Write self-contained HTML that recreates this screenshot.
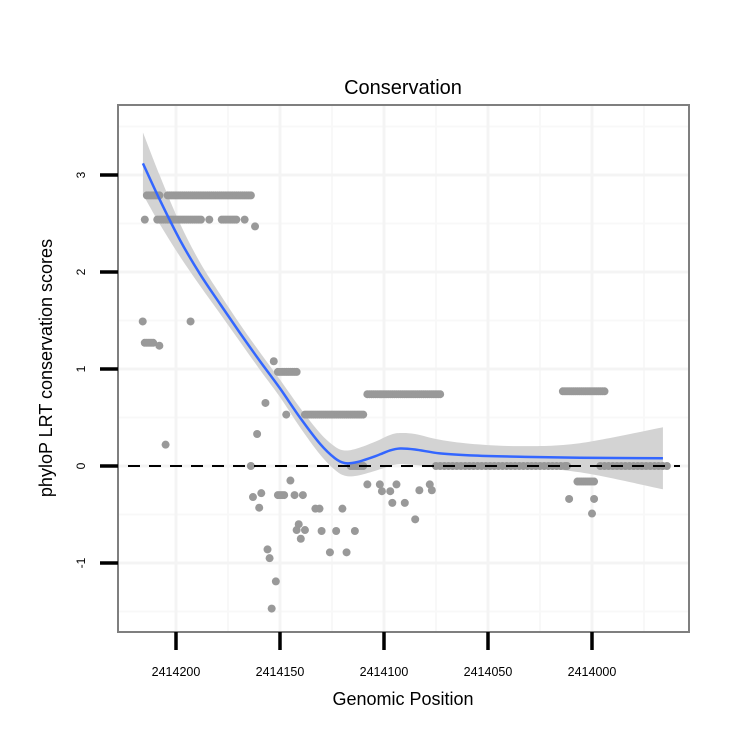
<!DOCTYPE html>
<html><head><meta charset="utf-8"><style>
html,body{margin:0;padding:0;background:#fff;}
svg{display:block;font-family:"Liberation Sans",Arial,sans-serif;}
</style></head><body>
<svg id="chart" width="750" height="750" viewBox="0 0 750 750">
<rect width="750" height="750" fill="#fff"/>
<text x="403" y="94" font-size="20" text-anchor="middle">Conservation</text>
<g id="grid"></g>
<g id="band"></g>
<g id="pts"></g>
<g id="ref"></g>
<g id="line"></g>
<rect x="118" y="105" width="571" height="527" fill="none" stroke="#7f7f7f" stroke-width="2"/>
<g id="axes"></g>
<text x="403" y="705" font-size="18" text-anchor="middle">Genomic Position</text>
<text transform="translate(52,368) rotate(-90)" font-size="18" text-anchor="middle">phyloP LRT conservation scores</text>
</svg>
<script>
const xBase = 2414000;
const xTicks = [2414200, 2414150, 2414100, 2414050, 2414000];
const xMinor = [2414175, 2414125, 2414075, 2414025, 2413975];
const yTicks = [3, 2, 1, 0, -1];
const yMinor = [3.5, 2.5, 1.5, 0.5, -0.5, -1.5];
const ptOff = [
214,213,212,211,210,209,208,204,203,202,201,200,199,198,197,196,195,194,193,192,191,190,189,188,187,186,185,184,183,182,181,180,179,178,177,176,175,174,173,172,171,170,169,168,167,166,165,164,
215,209,208,207,206,205,204,203,202,201,200,199,198,197,196,195,194,193,192,191,190,189,188,184,178,177,176,175,174,173,172,171,167,162,
216,193,215,214,213,212,211,208,205,
153,151,150,149,148,147,146,145,144,143,142,157,147,
138,137,136,135,134,133,132,131,130,129,128,127,126,125,124,123,122,121,120,119,118,117,116,115,114,113,112,111,110,
108,107,106,105,104,103,102,101,100,99,98,97,96,95,94,93,92,91,90,89,88,87,86,85,84,83,82,81,80,79,78,77,76,75,74,73,
161,164,116,115,114,113,112,111,110,
75,73,71,69,67,65,63,61,59,57,55,53,51,49,47,45,43,41,39,37,35,33,31,29,27,25,23,21,19,17,15,13,12,
-4,-6,-8,-10,-12,-14,-16,-18,-20,-22,-24,-26,-28,-30,-32,-34,-36,
145,159,163,160,151,150,149,148,143,139,133,131,120,141,142,138,140,130,123,114,156,155,126,118,152,154,
108,102,101,97,94,90,96,83,78,77,85,
14,13,12,11,10,9,8,7,6,5,4,3,2,1,0,-1,-2,-3,-4,-5,-6,
7,6,5,4,3,2,1,0,-1,11,-1,0
];
const ptVal = [
2.79,2.79,2.79,2.79,2.79,2.79,2.79,2.79,2.79,2.79,2.79,2.79,2.79,2.79,2.79,2.79,2.79,2.79,2.79,2.79,2.79,2.79,2.79,2.79,2.79,2.79,2.79,2.79,2.79,2.79,2.79,2.79,2.79,2.79,2.79,2.79,2.79,2.79,2.79,2.79,2.79,2.79,2.79,2.79,2.79,2.79,2.79,2.79,
2.54,2.54,2.54,2.54,2.54,2.54,2.54,2.54,2.54,2.54,2.54,2.54,2.54,2.54,2.54,2.54,2.54,2.54,2.54,2.54,2.54,2.54,2.54,2.54,2.54,2.54,2.54,2.54,2.54,2.54,2.54,2.54,2.54,2.47,
1.49,1.49,1.27,1.27,1.27,1.27,1.27,1.24,0.22,
1.08,0.97,0.97,0.97,0.97,0.97,0.97,0.97,0.97,0.97,0.97,0.65,0.53,
0.53,0.53,0.53,0.53,0.53,0.53,0.53,0.53,0.53,0.53,0.53,0.53,0.53,0.53,0.53,0.53,0.53,0.53,0.53,0.53,0.53,0.53,0.53,0.53,0.53,0.53,0.53,0.53,0.53,
0.74,0.74,0.74,0.74,0.74,0.74,0.74,0.74,0.74,0.74,0.74,0.74,0.74,0.74,0.74,0.74,0.74,0.74,0.74,0.74,0.74,0.74,0.74,0.74,0.74,0.74,0.74,0.74,0.74,0.74,0.74,0.74,0.74,0.74,0.74,0.74,
0.33,0,0,0,0,0,0,0,0,
0,0,0,0,0,0,0,0,0,0,0,0,0,0,0,0,0,0,0,0,0,0,0,0,0,0,0,0,0,0,0,0,0,
0,0,0,0,0,0,0,0,0,0,0,0,0,0,0,0,0,
-0.15,-0.28,-0.32,-0.43,-0.30,-0.30,-0.30,-0.30,-0.30,-0.30,-0.44,-0.44,-0.44,-0.60,-0.66,-0.66,-0.75,-0.67,-0.67,-0.67,-0.86,-0.95,-0.89,-0.89,-1.19,-1.47,
-0.19,-0.19,-0.26,-0.26,-0.19,-0.38,-0.38,-0.25,-0.19,-0.25,-0.55,
0.77,0.77,0.77,0.77,0.77,0.77,0.77,0.77,0.77,0.77,0.77,0.77,0.77,0.77,0.77,0.77,0.77,0.77,0.77,0.77,0.77,
-0.16,-0.16,-0.16,-0.16,-0.16,-0.16,-0.16,-0.16,-0.16,-0.34,-0.34,-0.49
];
const fitOff = [215.9,207.7,198.1,188.5,178.8,169.2,159.6,150,140.4,130.8,123.6,118.8,113,104.3,97.1,92.3,85.1,73.1,58.7,34.6,5.8,-34.1];
const fitVal = [3.12,2.74,2.33,1.98,1.67,1.37,1.08,0.80,0.50,0.23,0.08,0.03,0.04,0.10,0.16,0.18,0.17,0.13,0.11,0.095,0.085,0.08];
const fitSe = [0.32,0.25,0.17,0.12,0.10,0.09,0.09,0.09,0.10,0.11,0.12,0.13,0.14,0.15,0.16,0.16,0.16,0.14,0.12,0.11,0.15,0.32];

const X = p => 176 + (2414200 - p) * 2.08;
const Y = v => 466 - v * 97;
const NS = "http://www.w3.org/2000/svg";
function mk(tag, parent, attrs) {
  const e = document.createElementNS(NS, tag);
  for (const k in attrs) e.setAttribute(k, attrs[k]);
  parent.appendChild(e);
  return e;
}
function smooth(P) {
  let d = 'M' + P[0][0] + ',' + P[0][1];
  for (let i = 0; i < P.length - 1; i++) {
    const p0 = P[i - 1] || P[i], p1 = P[i], p2 = P[i + 1], p3 = P[i + 2] || p2;
    const c1x = p1[0] + (p2[0] - p0[0]) / 6, c1y = p1[1] + (p2[1] - p0[1]) / 6;
    const c2x = p2[0] - (p3[0] - p1[0]) / 6, c2y = p2[1] - (p3[1] - p1[1]) / 6;
    d += ' C' + c1x + ',' + c1y + ' ' + c2x + ',' + c2y + ' ' + p2[0] + ',' + p2[1];
  }
  return d;
}
const grid = document.getElementById('grid');
xMinor.forEach(p => {
  const l = mk('line', grid, {x1: X(p), x2: X(p), y1: 105, y2: 632, stroke: '#f8f8f8', 'stroke-width': 2});
  
  
});
yMinor.forEach(v => {
  const l = mk('line', grid, {x1: 118, x2: 689, y1: Y(v), y2: Y(v), stroke: '#f8f8f8', 'stroke-width': 2});
  
  
});
xTicks.forEach(p => {
  const l = mk('line', grid, {x1: X(p), x2: X(p), y1: 105, y2: 632, stroke: '#f4f4f4', 'stroke-width': 3});
  
  
});
yTicks.forEach(v => {
  const l = mk('line', grid, {x1: 118, x2: 689, y1: Y(v), y2: Y(v), stroke: '#f4f4f4', 'stroke-width': 3});
  
  
});
const upP = fitOff.map((o, i) => [X(xBase + o), Y(fitVal[i] + fitSe[i])]);
const loP = fitOff.map((o, i) => [X(xBase + o), Y(fitVal[i] - fitSe[i])]).reverse();
const bandD = smooth(upP) + ' L' + loP[0][0] + ',' + loP[0][1] + smooth(loP).replace(/^M[^ C]+/, '') + ' Z';
const band = mk('path', document.getElementById('band'), {d: bandD, fill: '#d3d3d3'});


const pts = document.getElementById('pts');
ptOff.forEach((o, i) => {
  const c = mk('circle', pts, {cx: X(xBase + o), cy: Y(ptVal[i]), r: 4, fill: '#999999'});
  
  
});
const z = mk('line', document.getElementById('ref'), {x1: 128, x2: 680, y1: Y(0), y2: Y(0), stroke: '#000', 'stroke-width': 2, 'stroke-dasharray': '12,9'});


const fl = mk('path', document.getElementById('line'), {d: smooth(fitOff.map((o, i) => [X(xBase + o), Y(fitVal[i])])), fill: 'none', stroke: '#3366ff', 'stroke-width': 2.5});


const axes = document.getElementById('axes');
yTicks.forEach(v => {
  const t = mk('line', axes, {x1: 100, x2: 118, y1: Y(v), y2: Y(v), stroke: '#000', 'stroke-width': 3.5});
  
  
  const tx = mk('text', axes, {transform: 'translate(85,' + Y(v) + ') rotate(-90)', 'font-size': 12, 'text-anchor': 'middle'});
  tx.textContent = String(v);
  
  
});
xTicks.forEach(p => {
  const t = mk('line', axes, {x1: X(p), x2: X(p), y1: 632, y2: 650, stroke: '#000', 'stroke-width': 3.5});
  
  
  const tx = mk('text', axes, {x: X(p), y: 676, 'font-size': 12.5, 'text-anchor': 'middle'});
  tx.textContent = String(p);
  
  
});
</script>
</body></html>
